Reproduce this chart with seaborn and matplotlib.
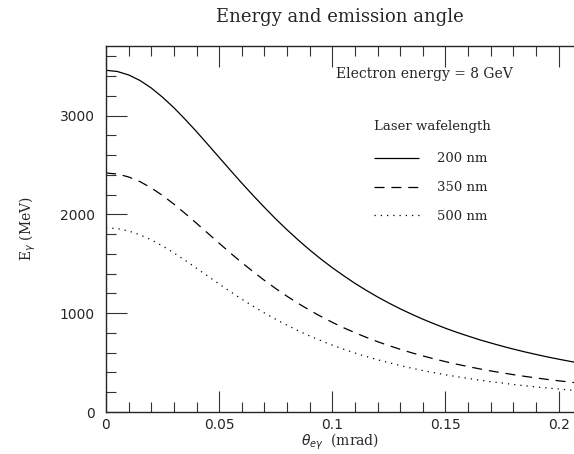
import numpy as np
import pandas as pd
import matplotlib
matplotlib.use("Agg")
import matplotlib.pyplot as plt
from matplotlib.ticker import MultipleLocator, FixedLocator
import seaborn as sns

theta = [0.000, 0.005, 0.010, 0.015, 0.020, 0.025, 0.030, 0.035, 0.040, 0.045,
         0.050, 0.055, 0.060, 0.065, 0.070, 0.075, 0.080, 0.085, 0.090, 0.095,
         0.100, 0.105, 0.110, 0.115, 0.120, 0.125, 0.130, 0.135, 0.140, 0.145,
         0.150, 0.155, 0.160, 0.165, 0.170, 0.175, 0.180, 0.185, 0.190, 0.195,
         0.200, 0.205, 0.210]
e_200 = [3460, 3448, 3413, 3357, 3281, 3187, 3081, 2963, 2839, 2709,
         2578, 2447, 2318, 2193, 2072, 1955, 1845, 1740, 1641, 1548,
         1461, 1380, 1303, 1232, 1165, 1103, 1045, 991, 940, 893,
         848, 807, 769, 732, 699, 667, 637, 609, 583, 558,
         535, 513, 492]
e_350 = [2420, 2410, 2380, 2333, 2269, 2192, 2105, 2010, 1911, 1810,
         1709, 1609, 1513, 1421, 1333, 1250, 1172, 1099, 1030, 967,
         908, 853, 803, 756, 712, 672, 635, 600, 568, 538,
         510, 484, 460, 437, 416, 397, 378, 361, 345, 330,
         316, 303, 290]
e_500 = [1865, 1857, 1833, 1794, 1743, 1681, 1611, 1535, 1456, 1376,
         1296, 1218, 1143, 1071, 1003, 939, 879, 822, 770, 722,
         677, 636, 597, 562, 529, 499, 470, 444, 420, 398,
         377, 358, 340, 323, 307, 293, 279, 266, 254, 243,
         233, 223, 213]
series_labels = ["200 nm", "350 nm", "500 nm"]

frames = []
for lab, vals in zip(series_labels, [e_200, e_350, e_500]):
    frames.append(pd.DataFrame({"theta": theta, "E": vals, "wl": lab}))
df = pd.concat(frames, ignore_index=True)

sns.set_style("ticks")
plt.rcParams['font.family'] = ['DejaVu Sans']

fig = plt.figure(figsize=(5.74, 4.54), dpi=100)
ax = fig.add_axes([106/574, 1 - 412/454, 1 - 106/574, (412 - 46)/454])

styles = {"200 nm": (0, ()), "350 nm": (0, (8, 5.5)), "500 nm": (0, (1, 4))}
for lab in series_labels:
    sub = df[df["wl"] == lab]
    sns.lineplot(data=sub, x="theta", y="E", ax=ax, color="black",
                 linewidth=0.9, label=lab, linestyle=styles[lab])

ax.set_xlim(0, 0.2068)
ax.set_ylim(0, 3706)
ax.xaxis.set_major_locator(FixedLocator([0, 0.05, 0.1, 0.15, 0.2]))
ax.set_xticklabels(["0", "0.05", "0.1", "0.15", "0.2"])
ax.xaxis.set_minor_locator(MultipleLocator(0.01))
ax.yaxis.set_major_locator(MultipleLocator(1000))
ax.yaxis.set_minor_locator(MultipleLocator(200))
ax.tick_params(which="both", direction="in", top=True, right=False,
               labelsize=10, width=0.8, color="#333333")
ax.tick_params(axis="x", which="both", pad=4)
ax.tick_params(axis="y", which="both", pad=8)
ax.tick_params(which="major", length=15)
ax.tick_params(which="minor", length=7)
for s in ["left", "bottom", "top"]:
    ax.spines[s].set_linewidth(1.0)
ax.spines["right"].set_visible(False)

ax.set_xlabel(r"$\theta_{e\gamma}$  (mrad)", fontsize=10, family="DejaVu Serif", labelpad=0)
ax.set_ylabel(r"E$_\gamma$ (MeV)", fontsize=10, family="DejaVu Serif", labelpad=16)
fig.text((106 + 574) / 2 / 574, 1 - 17 / 454, "Energy and emission angle",
         ha="center", va="center", fontsize=13, family="DejaVu Serif")

ax.text((424 - 106) / 468, (412 - 74) / 366, "Electron energy = 8 GeV",
        transform=ax.transAxes, ha="center", va="center",
        fontsize=10, family="DejaVu Serif")

leg = ax.legend(loc="upper left", bbox_to_anchor=((374 - 106) / 468, (412 - 120) / 366),
                frameon=False, title="Laser wafelength", handlelength=3.4,
                handletextpad=1.35, labelspacing=1.2, fontsize=9.5,
                title_fontsize=9.5, borderaxespad=0, borderpad=0)
leg._legend_box.align = "left"
leg._legend_box.sep = 14
for t in leg.get_texts():
    t.set_family("DejaVu Serif")
leg.get_title().set_family("DejaVu Serif")

fig.savefig("out.png", dpi=100)
